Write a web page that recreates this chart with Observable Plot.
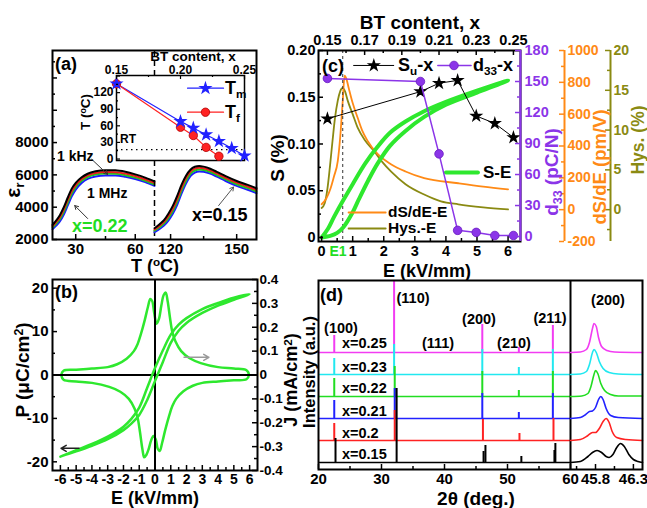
<!DOCTYPE html>
<html><head><meta charset="utf-8">
<script src="https://cdn.jsdelivr.net/npm/d3@7"></script>
<script src="https://cdn.jsdelivr.net/npm/@observablehq/plot@0.6"></script>
<style>
body{margin:0;background:#fff;}
#root{position:relative;width:647px;height:508px;overflow:hidden;background:#fff;font-family:"Liberation Sans",Arial,sans-serif;font-weight:bold;}
.t{position:absolute;white-space:nowrap;line-height:1;}
.t sub{font-size:0.65em;vertical-align:baseline;position:relative;top:0.3em;}
.t sup{font-size:0.65em;vertical-align:baseline;position:relative;top:-0.45em;}
</style></head><body><div id="root"></div>
<script>
// ================= DATA =================
// (a) dielectric permittivity vs temperature, x=0.22 (low T) and x=0.15 (high T)
const aTempLow   = [18.3,20,22,24,26,28,30,33,36,40,45,50,55,60,65,69.7];
const eps1kLow   = [2900,3150,3500,4000,4600,5150,5500,5850,6070,6220,6290,6280,6190,6030,5830,5600];
const eps10kLow  = [2820,3060,3380,3860,4450,5000,5370,5740,5970,6120,6180,6170,6080,5930,5730,5510];
const eps100kLow = [2740,2960,3260,3720,4290,4850,5240,5630,5870,6020,6080,6070,5980,5830,5640,5420];
const eps1MLow   = [2640,2840,3120,3550,4110,4670,5090,5500,5750,5900,5960,5960,5880,5740,5550,5320];
const aTempHigh   = [112.7,115,117,119,121,123,125,127,129,131,133,135,138,141,145,150,155,159];
const eps1kHigh   = [2700,2950,3200,3600,4080,4700,5400,5950,6320,6500,6550,6510,6380,6190,5920,5620,5380,5170];
const eps10kHigh  = [2620,2860,3090,3460,3920,4520,5220,5800,6200,6390,6440,6410,6280,6090,5820,5520,5280,5070];
const eps100kHigh = [2540,2760,2980,3320,3760,4340,5040,5640,6070,6270,6330,6300,6180,5990,5720,5420,5180,4970];
const eps1MHigh   = [2450,2650,2860,3170,3590,4150,4850,5460,5920,6140,6210,6190,6080,5890,5620,5320,5080,4870];
const freqNames = ["1 kHz","10 kHz","100 kHz","1 MHz"];
// (a) inset: Tm and Tf vs BT content
const btTm = [0.15,0.20,0.21,0.22,0.23,0.24,0.25];
const tmValues = [136,68,56,44,32,19.5,6];
const btTf = [0.15,0.20,0.21,0.22,0.23];
const tfValues = [136,57.5,42.5,21,5];
const roomTemp = 17;
// (b) P-E loop and J-E curve
const peLoop = [[-6,-18.8],[-5,-17.6],[-4,-16.3],[-3,-14.8],[-2,-12.7],[-1.5,-11.2],[-1,-9.2],[-0.5,-5.8],[0,-1.4],[0.5,3],[1,7.4],[1.5,10.2],[2,12],[3,14.3],[4,16],[5,17.3],[6,18.6],
  [5,17.8],[4,16.6],[3,15.2],[2,13.1],[1.5,11.6],[1,9.3],[0.5,5.7],[0,1.6],[-0.5,-3],[-1,-7.5],[-1.5,-10.1],[-2,-11.9],[-3,-14.2],[-4,-15.9],[-5,-17.3],[-6,-18.8]];
const jeLoop = [[-5.95,0],[-5.8,0.018],[-5,0.022],[-4,0.027],[-3,0.033],[-2.4,0.045],[-1.8,0.068],[-1.34,0.1],[-1.1,0.13],[-0.9,0.17],[-0.65,0.23],[-0.45,0.285],[-0.3,0.318],[-0.18,0.31],[-0.05,0.26],[0.1,0.215],[0.25,0.235],[0.4,0.29],[0.55,0.335],[0.68,0.345],[0.8,0.31],[0.95,0.24],[1.1,0.18],[1.3,0.14],[1.66,0.1],[2.2,0.07],[2.9,0.05],[4,0.033],[5,0.027],[5.8,0.02],[5.95,0],
  [5.8,-0.018],[5,-0.022],[4,-0.027],[3,-0.033],[2.4,-0.045],[1.8,-0.068],[1.34,-0.1],[1.1,-0.13],[0.9,-0.17],[0.65,-0.23],[0.45,-0.285],[0.3,-0.318],[0.18,-0.31],[0.05,-0.27],[-0.1,-0.255],[-0.25,-0.275],[-0.4,-0.31],[-0.55,-0.335],[-0.68,-0.345],[-0.8,-0.31],[-0.95,-0.24],[-1.1,-0.18],[-1.3,-0.14],[-1.66,-0.1],[-2.2,-0.07],[-2.9,-0.05],[-4,-0.033],[-5,-0.027],[-5.8,-0.02],[-5.95,0]];
// (c) S-E loop, dS/dE-E, Hys-E, Su-x, d33-x
const seLoop = [[0,0],[0.3,0.002],[0.5,0.005],[0.7,0.011],[1,0.027],[1.2,0.041],[1.5,0.061],[1.8,0.079],[2.2,0.098],[2.7,0.114],[3.3,0.129],[4,0.142],[5,0.155],[6,0.168],
  [5,0.157],[4,0.145],[3.3,0.135],[2.7,0.124],[2.2,0.112],[1.8,0.097],[1.4,0.079],[1,0.057],[0.7,0.04],[0.4,0.022],[0.2,0.009],[0,0]];
const dsdeField = [0,0.15,0.29,0.4,0.52,0.6,0.68,0.74,0.8,0.87,1.0,1.16,1.3,1.48,1.8,2.23,2.7,3.3,4.4,5.2,6.0];
const dsdeValues = [34,70,135,210,305,460,684,842,820,766,670,577,500,432,350,286,240,198,166,145,128];
const hysField = [0,0.1,0.19,0.27,0.35,0.43,0.52,0.6,0.68,0.76,0.84,1.0,1.16,1.4,1.68,1.95,2.23,2.7,3.3,3.84,4.4,5.2,6.0];
const hysValues = [0.2,0.8,2.7,5.5,8.6,11.5,13.7,14.9,15.3,14.8,13.7,12,10.3,8.7,7.4,6,4.8,3.2,1.9,1.05,0.67,0.3,0.04];
const btContent = [0.15,0.20,0.21,0.22,0.23,0.24,0.25];
const suValues = [0.127,0.156,0.165,0.168,0.130,0.122,0.107];
const d33Values = [153,150,80,6,4,1,1];
const fieldE1 = 0.68;
// (d) XRD patterns
const xrdLabels = ["x=0.15","x=0.2","x=0.21","x=0.22","x=0.23","x=0.25"];
const xrdOffsets = [7,29,51,73,95,117];
const peaks015 = {pos:[22.7,32.4,46.2,46.5,52.2,57.45,57.6], h:[24,74,11,17,6,12,19]};
const peaks020 = {pos:[22.5,32.1,46.1,51.9,57.3], h:[17,30,21,7,22]};
const peaks021 = {pos:[22.5,32.1,46.0,51.8,57.2], h:[18,30,25,6,25]};
const peaks022 = {pos:[22.5,32.1,46.0,51.8,57.2], h:[18,30,25,6,25]};
const peaks023 = {pos:[22.5,32.0,46.0,51.8,57.2], h:[16,30,25,7,25]};
const peaks025 = {pos:[22.5,32.0,46.0,51.8,57.2], h:[17,90,28,5,27]};
const prof015 = [[45.47,0],[45.6,1],[45.7,6],[45.76,10],[45.82,12],[45.88,10],[45.94,6],[45.98,5],[46.03,8],[46.08,15],[46.13,19],[46.18,16],[46.24,8],[46.3,3],[46.36,1],[46.42,0]];
const prof020 = [[45.47,0],[45.6,1],[45.7,5],[45.76,8],[45.8,8],[45.85,12],[45.9,19],[45.94,22],[45.98,18],[46.02,9],[46.08,3],[46.2,1],[46.42,0]];
const prof021 = [[45.47,0],[45.6,1],[45.67,4],[45.72,7],[45.76,7.5],[45.8,11],[45.84,19],[45.87,22],[45.9,19],[45.94,10],[46.0,3],[46.1,1],[46.42,0]];
const prof022 = [[45.47,0],[45.62,0.5],[45.7,3],[45.74,10],[45.78,22],[45.8,26],[45.83,23],[45.87,13],[45.92,6],[46.0,2],[46.1,0.5],[46.42,0.5]];
const prof023 = [[45.47,0],[45.6,0.5],[45.68,3],[45.72,10],[45.76,22],[45.78,25],[45.81,22],[45.85,13],[45.9,6],[45.98,2],[46.1,0.5],[46.42,0]];
const prof025 = [[45.47,0],[45.6,0.5],[45.68,3],[45.72,10],[45.76,24],[45.78,29],[45.81,26],[45.84,15],[45.88,6],[45.95,2],[46.05,0.5],[46.42,0]];

// ================= STYLE =================
const GREEN="#2ee82e", RED="#ff2222", BLUE="#2222ff", ORANGE="#ff8a16", OLIVE="#8a8a12", PURPLE="#8b35e8", CYAN="#22e8f0", MAGENTA="#f23cf2";
const freqColors = ["#000000","#ee1c1c","#1ec81e","#1c1cff"];
const xrdColors = ["#000000",RED,BLUE,"#22dd22",CYAN,MAGENTA];
const FONT = '"Liberation Sans", Arial, sans-serif';
const root = document.getElementById("root");

function plotAt(box, xs, ys, marks, fs = 15) {
  const [x0,y0,x1,y1] = box;
  const svg = Plot.plot({
    width: x1-x0, height: y1-y0, margin: 0,
    x: xs, y: ys,
    style: {background:"none", overflow:"visible", fontFamily:FONT, fontSize:fs+"px", fontWeight:"bold", color:"black"},
    marks
  });
  Object.assign(svg.style, {position:"absolute", left:x0+"px", top:y0+"px", background:"none", overflow:"visible", maxWidth:"none"});
  root.appendChild(svg);
  return svg;
}
function txt(html, x, y, o = {}) {
  const d = document.createElement("div");
  d.className = "t"; d.innerHTML = html;
  d.style.left = x+"px"; d.style.top = y+"px";
  d.style.fontSize = (o.size||15)+"px";
  d.style.color = o.color||"black";
  const ax = o.anchor==="start" ? "0" : "-50%";
  d.style.transform = `translate(${ax},-50%)` + (o.rotate ? ` rotate(${o.rotate}deg)` : "");
  root.appendChild(d);
}
const Wb = b => b[2]-b[0], Hb = b => b[3]-b[1];
const tB = (v,b,l,o={}) => Plot.tickX(v,{x:d=>d, insetTop:Hb(b)-l, strokeWidth:1.5, ...o});
const tT = (v,b,l,o={}) => Plot.tickX(v,{x:d=>d, insetBottom:Hb(b)-l, strokeWidth:1.5, ...o});
const tL = (v,b,l,o={}) => Plot.tickY(v,{y:d=>d, insetRight:Wb(b)-l, strokeWidth:1.5, ...o});
const tR = (v,b,l,o={}) => Plot.tickY(v,{y:d=>d, insetLeft:Wb(b)-l, strokeWidth:1.5, ...o});
const axB = (ticks,pad,fmt,o={}) => Plot.axisX({anchor:"bottom", ticks, tickSize:0, tickPadding:pad, tickFormat:fmt, label:null, ...o});
const axT = (ticks,pad,fmt,o={}) => Plot.axisX({anchor:"top", ticks, tickSize:0, tickPadding:pad, tickFormat:fmt, label:null, ...o});
const axL = (ticks,pad,fmt,o={}) => Plot.axisY({anchor:"left", ticks, tickSize:0, tickPadding:pad, tickFormat:fmt, label:null, ...o});
const axR = (ticks,pad,fmt,o={}) => Plot.axisY({anchor:"right", ticks, tickSize:0, tickPadding:pad, tickFormat:fmt, label:null, ...o});
const rng = (a,b,s) => d3.range(Math.round((b-a)/s)+1).map(i => +(a+i*s).toFixed(4));

// ================= PANEL (a) =================
const boxAL = [52,50,154,239], boxAR = [154,50,256,239];
const epsDomain = [2000,13700];
const lowSeries = [eps1kLow,eps10kLow,eps100kLow,eps1MLow];
const highSeries = [eps1kHigh,eps10kHigh,eps100kHigh,eps1MHigh];
const seriesMarks = (temps, series) => [3,2,1,0].map(k => Plot.line(temps.map((t,i)=>({t, v:series[k][i], f:freqNames[k]})), {x:"t", y:"v", stroke:freqColors[k], strokeWidth:2, curve:"monotone-x"}));
plotAt(boxAL, {domain:[18.3,69.7]}, {domain:epsDomain}, [
  ...seriesMarks(aTempLow, lowSeries),
  Plot.ruleX([69.7], {strokeDasharray:"6,4", strokeWidth:1.5}),
  tB([30,60],boxAL,5), tB([45],boxAL,3),
  tL(rng(2000,12000,2000),boxAL,5), tL(rng(3000,13000,2000),boxAL,3),
  axB([30,60],4,d=>String(d)),
  axL([2000,4000,6000,8000],4,d=>String(d)),
  Plot.arrow([{x1:38.1,y1:6960,x2:46.1,y2:6030}], {x1:"x1",y1:"y1",x2:"x2",y2:"y2", stroke:"#333", strokeWidth:1, headLength:6}),
  Plot.arrow([{x1:36,y1:3300,x2:29.5,y2:4100}], {x1:"x1",y1:"y1",x2:"x2",y2:"y2", stroke:"#333", strokeWidth:1, headLength:6})
]);
plotAt(boxAR, {domain:[112.7,159]}, {domain:epsDomain, axis:null}, [
  ...seriesMarks(aTempHigh, highSeries),
  tB([120,150],boxAR,5), tB([135],boxAR,3),
  axB([120,150],4,d=>String(d)),
  Plot.arrow([{x1:141.8,y1:4100,x2:148.6,y2:5250}], {x1:"x1",y1:"y1",x2:"x2",y2:"y2", stroke:"#555", strokeWidth:1, headLength:6})
]);
plotAt([52,50,256,239], {domain:[0,1],axis:null}, {domain:[0,1],axis:null}, [Plot.frame({strokeWidth:2})]);
// inset
const boxIn = [116,75,244,160];
plotAt(boxIn, {domain:[0.15,0.25]}, {domain:[-2.7,151]}, [
  Plot.frame({fill:"white", stroke:"black", strokeWidth:1.5}),
  Plot.ruleY([roomTemp], {strokeDasharray:"1.5,3.5", strokeWidth:1.3}),
  Plot.line(btTm.map((x,i)=>({x,y:tmValues[i]})), {x:"x",y:"y",stroke:BLUE,strokeWidth:1.2}),
  Plot.line(btTf.map((x,i)=>({x,y:tfValues[i]})), {x:"x",y:"y",stroke:RED,strokeWidth:1.2}),
  Plot.dot(btTf.map((x,i)=>({x,y:tfValues[i]})), {x:"x",y:"y",r:4.2,fill:RED,stroke:"#b00000",strokeWidth:0.8}),
  Plot.dot(btTm.map((x,i)=>({x,y:tmValues[i]})), {x:"x",y:"y",r:3,symbol:"star",fill:BLUE,stroke:BLUE}),
  Plot.line([{x:0.2055,y:128},{x:0.2336,y:128}], {x:"x",y:"y",stroke:BLUE,strokeWidth:1.2}),
  Plot.dot([{x:0.2195,y:128}], {x:"x",y:"y",r:3,symbol:"star",fill:BLUE,stroke:BLUE}),
  Plot.line([{x:0.2055,y:84.6},{x:0.2336,y:84.6}], {x:"x",y:"y",stroke:RED,strokeWidth:1.2}),
  Plot.dot([{x:0.2195,y:84.6}], {x:"x",y:"y",r:4.2,fill:RED,stroke:"#b00000",strokeWidth:0.8}),
  tT([0.15,0.2,0.25],boxIn,4,{strokeWidth:1.2}), tT([0.175,0.225],boxIn,2,{strokeWidth:1.2}),
  tL(rng(0,150,30),boxIn,4,{strokeWidth:1.2}), tL(rng(15,135,30),boxIn,2,{strokeWidth:1.2}),
  axT([0.15,0.2,0.25],1.5,d=>d.toFixed(2)),
  axL(rng(0,120,30),3,d=>String(d))
], 12);

txt("(a)",55,64,{anchor:"start",size:18});
txt("1 kHz",57,156,{anchor:"start",size:14});
txt("1 MHz",87,193,{anchor:"start",size:14});
txt("x=0.22",72,226,{anchor:"start",size:18,color:"#22dd22"});
txt("x=0.15",192,215,{anchor:"start",size:18});
txt("T (<sup>o</sup>C)",155,265.5,{size:18});
txt("ε<sub>r</sub>",12,190,{size:21,rotate:-90});
txt("BT content, x",193,56.5,{size:13.5});
txt("T (<sup>o</sup>C)",86,112,{size:13.5,rotate:-90});
txt("RT",120,139,{anchor:"start",size:12});
txt("T<sub>m</sub>",225,88,{anchor:"start",size:18});
txt("T<sub>f</sub>",225,112,{anchor:"start",size:18});

// ================= PANEL (b) =================
const boxB = [52,279,257,470];
plotAt(boxB, {domain:[-6.5,6.5], axis:null}, {domain:[-0.4,0.4]}, [
  Plot.line(jeLoop, {x:d=>d[0], y:d=>d[1], stroke:GREEN, strokeWidth:2.5, curve:"catmull-rom"}),
  Plot.arrow([{x1:1.84,y1:0.074,x2:3.42,y2:0.074}], {x1:"x1",y1:"y1",x2:"x2",y2:"y2", stroke:"#9a9a9a", strokeWidth:1.5, headLength:6}),
  tR(rng(-0.4,0.4,0.1),boxB,5), tR(rng(-0.35,0.35,0.1),boxB,3),
  axR(rng(-0.4,0.4,0.1),2,d=>Math.abs(d)<1e-9?"0":d.toFixed(1),{fontSize:13.5})
]);
plotAt(boxB, {domain:[-6.5,6.5]}, {domain:[-22,22]}, [
  Plot.ruleX([0], {strokeWidth:2}),
  Plot.ruleY([0], {strokeWidth:2}),
  Plot.line(peLoop, {x:d=>d[0], y:d=>d[1], stroke:GREEN, strokeWidth:2.5, curve:"catmull-rom"}),
  Plot.arrow([{x1:-4.82,y1:-16.9,x2:-5.96,y2:-16.9}], {x1:"x1",y1:"y1",x2:"x2",y2:"y2", stroke:"#222", strokeWidth:1.5, headLength:6}),
  Plot.frame({strokeWidth:2}),
  tB(rng(-6,6,1),boxB,5), tB(rng(-5.5,5.5,1),boxB,3),
  tL(rng(-20,20,10),boxB,5), tL(rng(-15,15,10),boxB,3),
  axB(rng(-6,6,1),4,d=>String(d),{fontSize:14}),
  axL(rng(-20,20,10),4,d=>String(d))
]);
txt("(b)",55,292,{anchor:"start",size:18});
txt("P (μC/cm<sup>2</sup>)",22,370,{size:19,rotate:-90});
txt("J (mA/cm<sup>2</sup>)",291,380,{size:18,rotate:-90});
txt("E (kV/mm)",155,497.5,{size:18});

// ================= PANEL (c) =================
const boxC = [318,50,520,241];
const eDom = [-0.1,6.4], sDom = [-0.0043,0.2], btDom = [0.1452,0.2538];
plotAt(boxC, {domain:eDom, axis:null}, {domain:[-4,20], axis:null}, [
  Plot.line(hysField.map((e,i)=>({e,v:hysValues[i]})), {x:"e",y:"v",stroke:OLIVE,strokeWidth:1.8,curve:"monotone-x"})
]);
plotAt(boxC, {domain:eDom, axis:null}, {domain:[-200,1000], axis:null}, [
  Plot.line(dsdeField.map((e,i)=>({e,v:dsdeValues[i]})), {x:"e",y:"v",stroke:ORANGE,strokeWidth:1.8,curve:"monotone-x"})
]);
plotAt(boxC, {domain:eDom}, {domain:sDom}, [
  Plot.ruleX([fieldE1], {strokeDasharray:"3,3", strokeWidth:1, stroke:"#333"}),
  Plot.line(seLoop, {x:d=>d[0], y:d=>d[1], stroke:GREEN, strokeWidth:4, curve:"catmull-rom"}),
  Plot.line([[4.0,0.0695],[5.03,0.0695]], {stroke:GREEN, strokeWidth:4}),
  Plot.line([[0.87,0.0267],[2.06,0.0267]], {stroke:ORANGE, strokeWidth:2}),
  Plot.line([[0.87,0.0096],[2.06,0.0096]], {stroke:OLIVE, strokeWidth:2}),
  Plot.line([[1.03,0.184],[2.32,0.184]], {stroke:"black", strokeWidth:1}),
  Plot.dot([[1.68,0.184]], {r:3, symbol:"star", fill:"black", stroke:"black"}),
  Plot.line([[3.74,0.184],[4.81,0.184]], {stroke:PURPLE, strokeWidth:1.5}),
  Plot.dot([[4.26,0.184]], {r:4.3, fill:PURPLE, stroke:"#6a1cc0", strokeWidth:0.8}),
  Plot.frame({strokeWidth:2}),
  tB(rng(0,6,1),boxC,5), tB(rng(0.5,5.5,1),boxC,3),
  tL(rng(0,0.2,0.05),boxC,5), tL(rng(0.025,0.175,0.05),boxC,3),
  axB(rng(0,6,1),4,d=>String(d),{fontSize:14.5}),
  axL(rng(0,0.2,0.05),3,d=>d===0?"0":d.toFixed(2),{fontSize:14.5})
]);
plotAt(boxC, {domain:btDom}, {domain:sDom, axis:null}, [
  Plot.line(btContent.map((x,i)=>({x,y:suValues[i]})), {x:"x",y:"y",stroke:"black",strokeWidth:1}),
  Plot.dot(btContent.map((x,i)=>({x,y:suValues[i]})), {x:"x",y:"y",r:3,symbol:"star",fill:"black",stroke:"black"}),
  tT(rng(0.15,0.25,0.02),boxC,5), tT(rng(0.16,0.24,0.02),boxC,3),
  axT(rng(0.15,0.25,0.02),6,d=>d.toFixed(2),{fontSize:14.5})
]);
plotAt(boxC, {domain:btDom, axis:null}, {domain:[-4.8,180]}, [
  Plot.line(btContent.map((x,i)=>({x,y:d33Values[i]})), {x:"x",y:"y",stroke:PURPLE,strokeWidth:1.5}),
  Plot.dot(btContent.map((x,i)=>({x,y:d33Values[i]})), {x:"x",y:"y",r:4.3,fill:PURPLE,stroke:"#6a1cc0",strokeWidth:0.8}),
  Plot.ruleX([btDom[1]], {stroke:PURPLE, strokeWidth:2}),
  tR(rng(0,180,30),boxC,5,{stroke:PURPLE}), tR(rng(15,165,30),boxC,3,{stroke:PURPLE}),
  axR(rng(0,180,30),4,d=>String(d),{fill:PURPLE,fontSize:14.5})
]);
const boxOr = [559,50,564,241];
plotAt(boxOr, {domain:[0,1], axis:null}, {domain:[-200,1000]}, [
  Plot.ruleX([1], {stroke:ORANGE, strokeWidth:2}),
  Plot.tickY(rng(-200,1000,200), {y:d=>d, stroke:ORANGE, strokeWidth:1.5}),
  Plot.tickY(rng(-100,900,200), {y:d=>d, insetLeft:2, stroke:ORANGE, strokeWidth:1.5}),
  axR(rng(-200,1000,200),3,d=>String(d),{fill:ORANGE,fontSize:14})
]);
const boxOl = [605,50,610,241];
plotAt(boxOl, {domain:[0,1], axis:null}, {domain:[-4,20]}, [
  Plot.ruleX([1], {stroke:OLIVE, strokeWidth:2}),
  Plot.tickY(rng(0,20,5), {y:d=>d, stroke:OLIVE, strokeWidth:1.5}),
  Plot.tickY(rng(-2.5,17.5,5), {y:d=>d, insetLeft:2, stroke:OLIVE, strokeWidth:1.5}),
  axR(rng(0,20,5),3,d=>String(d),{fill:OLIVE,fontSize:14})
]);
txt("BT content, x",420,22,{size:19});
txt("S (%)",277,158,{size:19,rotate:-90});
txt("(c)",322,66,{anchor:"start",size:18});
txt("S<sub>u</sub>-x",398,65,{anchor:"start",size:18});
txt("d<sub>33</sub>-x",473,65,{anchor:"start",size:18});
txt("S-E",483,172,{anchor:"start",size:17});
txt("dS/dE-E",388,212,{anchor:"start",size:15.5});
txt("Hys.-E",388,228,{anchor:"start",size:15.5});
txt("E1",338,251,{size:14,color:"#22dd22"});
txt("E (kV/mm)",427,270.5,{size:18});
txt("d<sub>33</sub> (pC/N)",551,172,{size:19,rotate:-90,color:PURPLE});
txt("dS/dE (pm/V)",600,167,{size:18.5,rotate:-90,color:ORANGE});
txt("Hys. (%)",638.5,140,{size:17.5,rotate:-90,color:OLIVE});

// ================= PANEL (d) =================
const boxD = [318,280,570,469], boxD2 = [570,280,642,469];
const xrdPeaks = [peaks015,peaks020,peaks021,peaks022,peaks023,peaks025];
const xrdProfiles = [prof015,prof020,prof021,prof022,prof023,prof025];
const mainMarks = [];
for (let k = 5; k >= 0; k--) {
  mainMarks.push(Plot.ruleY([xrdOffsets[k]], {stroke:xrdColors[k], strokeWidth:1.3}));
  mainMarks.push(Plot.ruleX(xrdPeaks[k].pos.map((x,i)=>({x, y1:xrdOffsets[k], y2:xrdOffsets[k]+xrdPeaks[k].h[i]})),
    {x:"x", y1:"y1", y2:"y2", stroke:xrdColors[k], strokeWidth:2, clip:true}));
}
plotAt(boxD, {domain:[20,60]}, {domain:[0,189], axis:null}, [
  ...mainMarks,
  Plot.ruleX([60], {strokeWidth:2}),
  tB(rng(20,60,10),boxD,5), tB(rng(25,55,10),boxD,3),
  axB(rng(20,60,10),4,d=>String(d))
]);
const sideMarks = [];
for (let k = 5; k >= 0; k--) {
  sideMarks.push(Plot.line(xrdProfiles[k], {x:d=>d[0], y:d=>xrdOffsets[k]+d[1], stroke:xrdColors[k], strokeWidth:1.6, curve:"monotone-x"}));
}
plotAt(boxD2, {domain:[45.47,46.42]}, {domain:[0,189], axis:null}, [
  ...sideMarks,
  tB([45.8,46.3],boxD2,5), tB([45.55,46.05],boxD2,3),
  axB([45.8,46.3],4,d=>d.toFixed(1))
]);
plotAt([318,280,642,469], {domain:[0,1],axis:null}, {domain:[0,1],axis:null}, [Plot.frame({strokeWidth:2})]);
txt("(d)",320,295,{anchor:"start",size:18});
txt("(100)",341,328,{size:14.5});
txt("(110)",413,298,{size:14.5});
txt("(111)",438,343,{size:14.5});
txt("(200)",479,319,{size:14.5});
txt("(210)",514,343,{size:14.5});
txt("(211)",550,318,{size:14.5});
txt("(200)",608,300,{size:14.5});
const xrdLabelY = [454,433,411,388,367,343];
xrdLabels.forEach((s,k) => txt(s,342,xrdLabelY[k],{anchor:"start",size:14.5}));
txt("Intensity (a.u.)",308.5,372,{size:16.5,rotate:-90});
txt("2θ (deg.)",476,498,{size:19});
</script></body></html>
